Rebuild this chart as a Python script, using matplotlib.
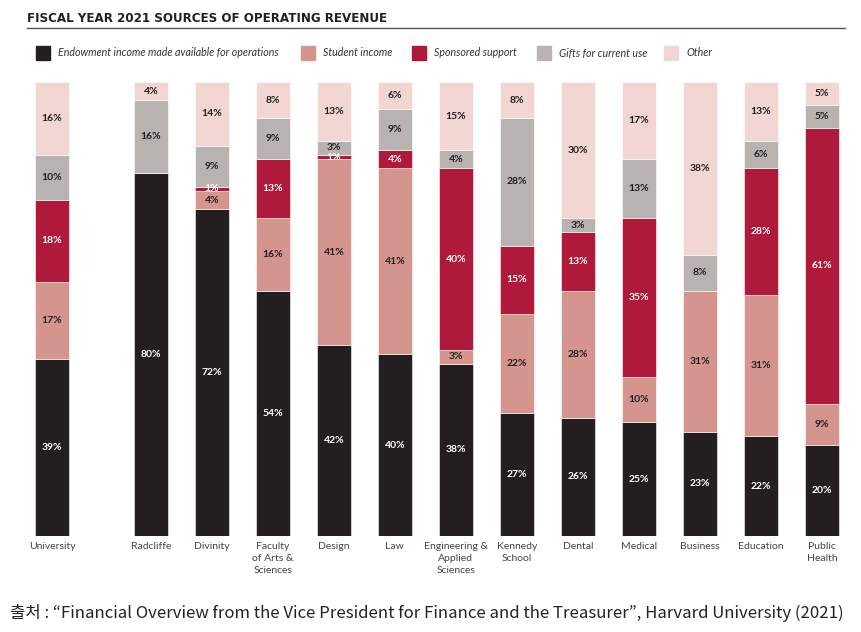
import matplotlib.pyplot as plt
import matplotlib.transforms as mtransforms
from matplotlib.patches import Rectangle
from matplotlib.lines import Line2D

plt.rcParams['font.family'] = ['Lato', 'DejaVu Sans']

# 데이터
schools = ["University", "Radcliffe", "Divinity", "Faculty\nof Arts &\nSciences", "Design", "Law",
           "Engineering &\nApplied\nSciences", "Kennedy\nSchool", "Dental", "Medical", "Business",
           "Education", "Public\nHealth"]
endowment = [39, 80, 72, 54, 42, 40, 38, 27, 26, 25, 23, 22, 20]
student = [17, 0, 4, 16, 41, 41, 3, 22, 28, 10, 31, 31, 9]
sponsored = [18, 0, 1, 13, 1, 4, 40, 15, 13, 35, 0, 28, 61]
gifts = [10, 16, 9, 9, 3, 9, 4, 28, 3, 13, 8, 6, 5]
other = [16, 4, 14, 8, 13, 6, 15, 8, 30, 17, 38, 13, 5]

series = [
    ("Endowment income made available for operations", endowment, "#231f20", "white"),
    ("Student income", student, "#d4958f", "#231f20"),
    ("Sponsored support", sponsored, "#b01a3a", "white"),
    ("Gifts for current use", gifts, "#b8b2b0", "#231f20"),
    ("Other", other, "#f1d6d3", "#231f20"),
]

# University 다음에 간격을 둔다
pos = [0] + [1.62 + i for i in range(len(schools) - 1)]

fig = plt.figure(figsize=(8.62, 6.32), dpi=100)
ax = fig.add_axes([0.0, 0.152, 1.0, 0.718])

bottom = [0] * len(schools)
for name, vals, color, tcolor in series:
    ax.bar(pos, vals, width=0.56, bottom=bottom, color=color, edgecolor="white", linewidth=0.4)
    for x, b, v in zip(pos, bottom, vals):
        if v > 0:
            ax.text(x, b + v / 2, f"{v}%", ha="center", va="center", fontsize=7.5,
                    fontweight="bold", color=tcolor)
    bottom = [b + v for b, v in zip(bottom, vals)]

ax.set_xlim(-52 / 61, 810 / 61)
ax.set_ylim(0, 100)
ax.axis("off")

trans = mtransforms.blended_transform_factory(ax.transData, ax.transAxes)
for x, s in zip(pos, schools):
    ax.text(x, -0.013, s, transform=trans, ha="center", va="top", fontsize=7.5,
            color="#444444", linespacing=1.45)

# 제목
fig.text(27 / 862, 1 - 18 / 632, "FISCAL YEAR 2021 SOURCES OF OPERATING REVENUE", ha="left",
         va="center", fontsize=8.6, fontweight="bold", color="#231f20", family="DejaVu Sans")
fig.add_artist(Line2D([27 / 862, 845 / 862], [1 - 28 / 632] * 2, color="#555555", linewidth=1.0))

# 범례
legend_x = [36, 301, 412, 537, 664]
for (name, vals, color, tcolor), lx in zip(series, legend_x):
    fig.add_artist(Rectangle((lx / 862, 1 - 60 / 632), 14 / 862, 14 / 632, color=color,
                             transform=fig.transFigure))
    fig.text((lx + 22) / 862, 1 - 53 / 632, name, ha="left", va="center", fontsize=7.7,
             fontstyle="italic", color="#333333")

# 출처
fig.text(10 / 862, 1 - 613 / 632,
         "출처 : “Financial Overview from the Vice President for Finance and the Treasurer”, Harvard University (2021)",
         ha="left", va="center", fontsize=12.05, color="#222222",
         family=["Noto Sans CJK KR", "DejaVu Sans"])

fig.savefig("out.png", dpi=100)
